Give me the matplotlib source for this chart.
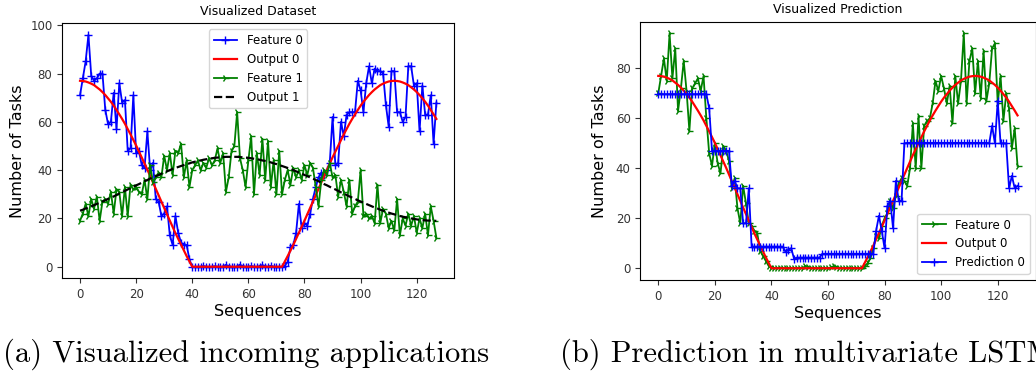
import matplotlib
matplotlib.use("Agg")
import matplotlib.pyplot as plt
import numpy as np

# ---- panel (a): visualized dataset ----
feature0 = [71, 78, 85, 96, 79, 77, 78, 80, 80, 65, 59, 60, 72, 57, 76, 68, 69, 48, 49, 71,
            47, 48, 42, 41, 56, 40, 43, 28, 27, 21, 22, 25, 13, 9, 21, 14, 10, 9, 9, 3,
            0, 0, 0, 0, 0.3, 0, 0, 0, 0.2, 0, 0, 0, 0.8, 0, 0, 0, 0, 0.9, 0, 0,
            0, 0.3, 0, 0, 0, 0.7, 0, 0, 0.4, 0, 0, 0, 0, 0.5, 2, 8, 9, 14, 26, 16,
            18, 17, 22, 28, 33, 37, 39, 38, 40, 43, 62, 42, 43, 60, 54, 63, 64, 64, 64, 77,
            73, 64, 76, 83, 76, 82, 81, 81, 80, 67, 58, 81, 81, 64, 64, 60, 62, 83, 83, 75,
            76, 56, 75, 63, 63, 71, 51, 68]
output0 = [77.0, 76.9, 76.7, 76.3, 75.8, 75.2, 74.3, 73.4, 72.3, 71.1, 69.7, 68.3, 66.7, 64.9,
           63.1, 61.2, 59.2, 57.0, 54.8, 52.5, 50.2, 47.7, 45.3, 42.7, 40.2, 37.5, 34.9, 32.3,
           29.6, 26.9, 24.3, 21.7, 19.1, 16.5, 13.9, 11.5, 9.0, 6.7, 4.4, 2.2, 0.0,
           0, 0, 0, 0, 0, 0, 0, 0, 0, 0, 0, 0, 0, 0, 0, 0, 0, 0, 0, 0, 0, 0, 0, 0, 0, 0,
           0, 0, 0, 0, 0,
           0.0, 2.2, 4.4, 6.7, 9.0, 11.5, 13.9, 16.5, 19.1, 21.7, 24.3, 26.9, 29.6, 32.3,
           34.9, 37.5, 40.2, 42.7, 45.3, 47.7, 50.2, 52.5, 54.8, 57.0, 59.2, 61.2, 63.1, 64.9,
           66.7, 68.3, 69.7, 71.1, 72.3, 73.4, 74.3, 75.2, 75.8, 76.3, 76.7, 76.9, 77.0,
           76.9, 76.7, 76.3, 75.8, 75.2, 74.3, 73.4, 72.3, 71.1, 69.7, 68.3, 66.7, 64.9,
           63.1, 61.2]
feature1 = [19, 22, 26, 21, 28, 24, 29, 19, 27, 28, 26, 31, 22, 32, 31, 21, 33, 21, 34, 32,
            33, 31, 30, 36, 28, 42, 35, 37, 39, 37, 46, 40, 47, 38, 48, 47, 51, 37, 44, 33,
            40, 42, 44, 40, 43, 41, 45, 42, 44, 49, 43, 47, 31, 37, 48, 50, 64, 45, 40, 33,
            44, 54, 30, 47, 38, 53, 36, 52, 33, 44, 30, 48, 30, 36, 40, 34, 41, 37, 40, 36,
            42, 38, 43, 41, 33, 25, 36, 40, 38, 43, 37, 38, 29, 36, 31, 25, 36, 22, 25, 27,
            40, 21, 22, 20, 21, 18, 34, 18, 24, 22, 16, 19, 15, 28, 13, 20, 17, 22, 17, 21,
            14, 20, 16, 22, 13, 25, 19, 12]
output1 = [23.2, 23.6, 24.1, 24.5, 25.0, 25.5, 26.0, 26.5, 27.0, 27.5,
           28.1, 28.6, 29.1, 29.7, 30.3, 30.8, 31.4, 32.0, 32.5, 33.1,
           33.7, 34.2, 34.8, 35.4, 35.9, 36.5, 37.0, 37.5, 38.0, 38.5,
           39.0, 39.5, 40.0, 40.5, 40.9, 41.3, 41.7, 42.1, 42.5, 42.8,
           43.2, 43.5, 43.8, 44.0, 44.3, 44.5, 44.7, 44.9, 45.1, 45.2,
           45.3, 45.4, 45.5, 45.5,
           45.5, 45.5, 45.5, 45.4, 45.3, 45.2, 45.1, 44.9, 44.7, 44.5,
           44.3, 44.0, 43.8, 43.5, 43.2, 42.8, 42.5, 42.1, 41.7, 41.3,
           40.9, 40.5, 40.0, 39.5, 39.0, 38.5, 38.0, 37.5, 37.0, 36.5,
           35.9, 35.4, 34.8, 34.2, 33.7, 33.1, 32.5, 32.0, 31.4, 30.8,
           30.3, 29.7, 29.1, 28.6, 28.1, 27.5, 27.0, 26.5, 26.0, 25.5,
           25.0, 24.5, 24.1, 23.6, 23.2, 22.8, 22.4, 22.0, 21.7, 21.3,
           21.0, 20.7, 20.5, 20.2, 20.0, 19.8, 19.6, 19.4, 19.3, 19.2,
           19.1, 19.1, 19.0, 19.0]

# ---- panel (b): prediction ----
test_feature0 = [70, 77, 84, 75, 94, 76, 88, 63, 72, 83, 71, 55, 72, 74, 76, 71, 77, 60, 46, 41,
                 50, 42, 38, 49, 47, 43, 32, 36, 24, 18, 33, 26, 18, 17, 15, 14, 7, 5, 3, 1,
                 0, 0, 0, 0.3, 0, 0, 0, 0, 0, 0, 0.2, 0, 0.9, 0.5, 0, 0, 0, 0, 0, 0,
                 0, 0.4, 0.8, 0.5, 0, 0, 0, 0.3, 0, 0, 0, 0, 0, 1, 2, 4, 8, 13, 12, 17,
                 20, 22, 27, 24, 29, 34, 36, 35, 33, 40, 58, 40, 61, 40, 57, 59, 60, 66, 75, 71,
                 77, 72, 66, 73, 58, 77, 66, 75, 94, 66, 83, 88, 70, 83, 68, 87, 67, 74, 88, 90,
                 66, 77, 59, 70, 64, 48, 56, 41]
prediction0 = [69.7, 69.7, 69.7, 69.7, 69.7, 69.7, 69.7, 69.7, 69.7, 69.7,
               69.7, 69.7, 69.7, 69.7, 69.7, 69.7, 69.7, 69.7, 64, 47,
               47, 47, 47, 47, 47, 47, 33, 35, 32, 32, 18, 18, 32, 8.7, 8.7, 8.7,
               8.7, 8.7, 8.7, 8.7, 8.7, 8.7, 8.7, 8.7, 8.7, 6.5, 7.5, 8, 3.8,
               4.3, 4.3, 4.3, 4.3, 4.3, 4.3, 4.3, 4.3, 4.3,
               5.8, 5.8, 5.8, 5.8, 5.8, 5.8, 5.8, 5.8, 5.8, 5.8,
               5.8, 5.8, 5.8, 5.8, 5.8, 5.8, 5.8, 5.8, 5.8,
               15, 21, 15, 8, 25, 27, 16, 35, 27, 27, 50,
               50.2, 50.2, 50.2, 50.2, 50.2, 50.2, 50.2, 50.2, 50.2, 50.2,
               50.2, 50.2, 50.2, 50.2, 50.2, 50.2, 50.2, 50.2, 50.2, 50.2,
               50.2, 50.2, 50.2, 50.2, 50.2, 50.2, 50.2, 50.2, 50.2,
               50, 57, 50, 67, 50, 50, 50, 32, 37, 32, 33]

W, H = 1036, 378
fig = plt.figure(figsize=(W / 100, H / 100), dpi=100)
axA = fig.add_axes([62.2 / W, 1 - 278.3 / H, (454.2 - 62.2) / W, (278.3 - 23.3) / H])
axB = fig.add_axes([640.3 / W, 1 - 280 / H, (1035.5 - 640.3) / W, (280 - 21.7) / H])

mk = dict(lw=1.3, ms=6, mew=1.0)
x = np.arange(len(feature0))
axA.plot(x, feature0, "b-", marker="+", label="Feature 0", **mk)
axA.plot(np.arange(len(output0)), output0, "r-", lw=1.6, label="Output 0")
axA.plot(np.arange(len(feature1)), feature1, "g-", marker="4", label="Feature 1", **mk)
axA.plot(np.arange(len(output1)), output1, "k--", lw=1.6, label="Output 1")
axA.set_title("Visualized Dataset", fontsize=9)
axA.set_xlabel("Sequences", fontsize=11.5)
axA.set_ylabel("Number of Tasks", fontsize=11.5)
axA.legend(loc="upper center", fontsize=8.5)

axB.plot(np.arange(len(test_feature0)), test_feature0, "g-", marker="4", label="Feature 0", **mk)
axB.plot(np.arange(len(output0)), output0, "r-", lw=1.6, label="Output 0")
axB.plot(np.arange(len(prediction0)), prediction0, "b-", marker="+", label="Prediction 0", **mk)
axB.set_title("Visualized Prediction", fontsize=9)
axB.set_xlabel("Sequences", fontsize=11.5)
axB.set_ylabel("Number of Tasks", fontsize=11.5)
axB.legend(loc="lower right", fontsize=8.5)

for ax in (axA, axB):
    ax.set_xticks(range(0, 121, 20))
    ax.tick_params(labelsize=8.5, colors="#333333", labelcolor="#333333")
    ax.xaxis.set_label_coords(0.5, -0.10)
axA.yaxis.set_label_coords(-0.095, 0.5)
axB.yaxis.set_label_coords(-0.085, 0.5)
axA.set_yticks(range(0, 101, 20))
axB.set_yticks(range(0, 81, 20))

fig.text(3 / W, 1 - 354 / H, "(a) Visualized incoming applications", fontname="cmr10",
         fontsize=22, va="center", ha="left")
fig.text(560 / W, 1 - 354 / H, "(b) Prediction in multivariate LSTM", fontname="cmr10",
         fontsize=22, va="center", ha="left")

fig.savefig("out.png", dpi=100)
